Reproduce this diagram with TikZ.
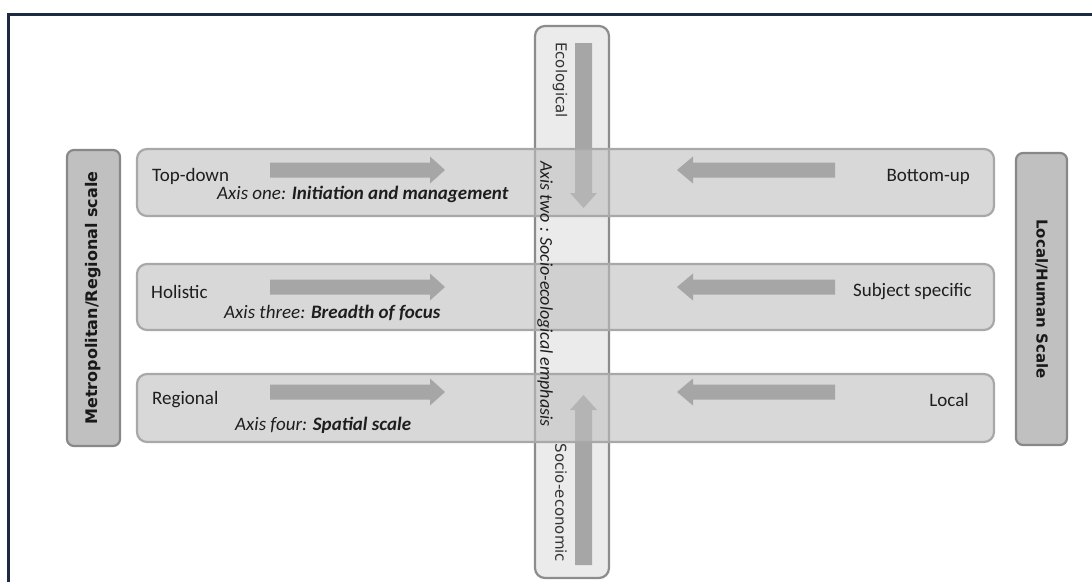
\documentclass[tikz,border=0pt]{standalone}
\usepackage{fontspec}
\setmainfont{Carlito}
\newfontfamily\dvs{DejaVu Sans}
\usetikzlibrary{positioning}
\definecolor{frameblue}{HTML}{1C2B42}
\definecolor{barfill}{HTML}{BEBEBE}
\definecolor{barline}{HTML}{A8A8A8}
\definecolor{vfill}{HTML}{EBEBEB}
\definecolor{vline}{HTML}{8C8C8C}
\definecolor{sidefill}{HTML}{C0C0C0}
\definecolor{sideline}{HTML}{888888}
\definecolor{arrowgray}{HTML}{A6A6A6}
\definecolor{txt}{HTML}{1E1E1E}
\tikzset{
  hbar/.style={draw=barline, line width=2.2pt, fill=barfill, fill opacity=0.6, rounded corners=10pt, inner sep=0pt},
  vbar/.style={draw=vline, line width=2.2pt, fill=vfill, rounded corners=10pt, inner sep=0pt},
  sidebox/.style={draw=sideline, line width=2.2pt, fill=sidefill, rounded corners=7pt, inner sep=0pt},
  lbl/.style={font=\fontsize{19}{21}\selectfont, text=txt, inner sep=0pt},
  axislbl/.style={font=\fontsize{19}{21}\selectfont\itshape, text=txt, inner sep=0pt},
  sidelbl/.style={font=\dvs\bfseries\fontsize{16}{18}\selectfont, text=black!90, inner sep=0pt},
  vlbl/.style={font=\dvs\fontsize{15}{17}\selectfont, text=black!80, inner sep=0pt, rotate=-90},
  blockarrow/.style={fill=arrowgray, draw=none}
}
\begin{document}
\begin{tikzpicture}[x=1pt,y=-1pt]
\useasboundingbox (0,0) rectangle (1092,581);
\fill[white] (0,0) rectangle (1092,581);
\begin{scope}
\clip (0,0) rectangle (1092,581);
\draw[frameblue, line width=2.8pt] (8.5,700) -- (8.5,14.5) -- (1200,14.5);
\end{scope}

% vertical axis bar
\node[vbar, minimum width=74pt, minimum height=552pt] (vb) at (572,302) {};
\fill[blockarrow] (575,43) -- (592,43) -- (592,193) -- (597,193) -- (583.5,208) -- (570,193) -- (575,193) -- cycle;
\fill[blockarrow] (575,565) -- (592,565) -- (592,410) -- (597,410) -- (583.5,395) -- (570,410) -- (575,410) -- cycle;
\node[vlbl] (eco) at (560,80) {Ecological};
\node[vlbl] (soc) at (561,503) {Socio-economic};

% horizontal bars
\node[hbar, minimum width=857pt, minimum height=67pt] (r1) at (565.5,182.5) {};
\node[hbar, minimum width=857pt, minimum height=66pt] (r2) at (565.5,297) {};
\node[hbar, minimum width=857pt, minimum height=68pt] (r3) at (565.5,408) {};

\node[axislbl, rotate=-90, font=\fontsize{18}{20}\selectfont\itshape] (ax2) at (545,294) {Axis two : Socio-ecological emphasis};

% horizontal arrows
\foreach \y in {170,287,392}{
  \fill[blockarrow] (270,\y-7.5) -- (430,\y-7.5) -- (430,\y-13.5) -- (445,\y) -- (430,\y+13.5) -- (430,\y+7.5) -- (270,\y+7.5) -- cycle;
  \fill[blockarrow] (835,\y-7.5) -- (693,\y-7.5) -- (693,\y-13.5) -- (677,\y) -- (693,\y+13.5) -- (693,\y+7.5) -- (835,\y+7.5) -- cycle;
}

% side boxes
\node[sidebox, minimum width=53pt, minimum height=296pt] (left) at (93.5,298) {};
\node[sidelbl, rotate=90] (leftlbl) at (left.center) {Metropolitan/Regional scale};
\node[sidebox, minimum width=51pt, minimum height=292pt] (right) at (1041.5,299) {};
\node[sidelbl, rotate=-90, font=\dvs\bfseries\fontsize{15}{17}\selectfont] (rightlbl) at (right.center) {Local/Human Scale};

% row labels
\node[lbl, anchor=west] (td) at (152,176) {Top-down};
\node[lbl, anchor=east] (bu) at (970,177) {Bottom-up};
\node[axislbl, anchor=west] (ax1) at (217,194) {Axis one: \textbf{Initiation and management}};

\node[lbl, anchor=west] (hol) at (151,292) {Holistic};
\node[lbl, anchor=east] (ss) at (972,292) {Subject specific};
\node[axislbl, anchor=west] (ax3) at (224,313) {Axis three: \textbf{Breadth of focus}};

\node[lbl, anchor=west] (reg) at (152,400) {Regional};
\node[lbl, anchor=east] (loc) at (969,400) {Local};
\node[axislbl, anchor=west] (ax4) at (235,425) {Axis four: \textbf{Spatial scale}};
\end{tikzpicture}
\end{document}
